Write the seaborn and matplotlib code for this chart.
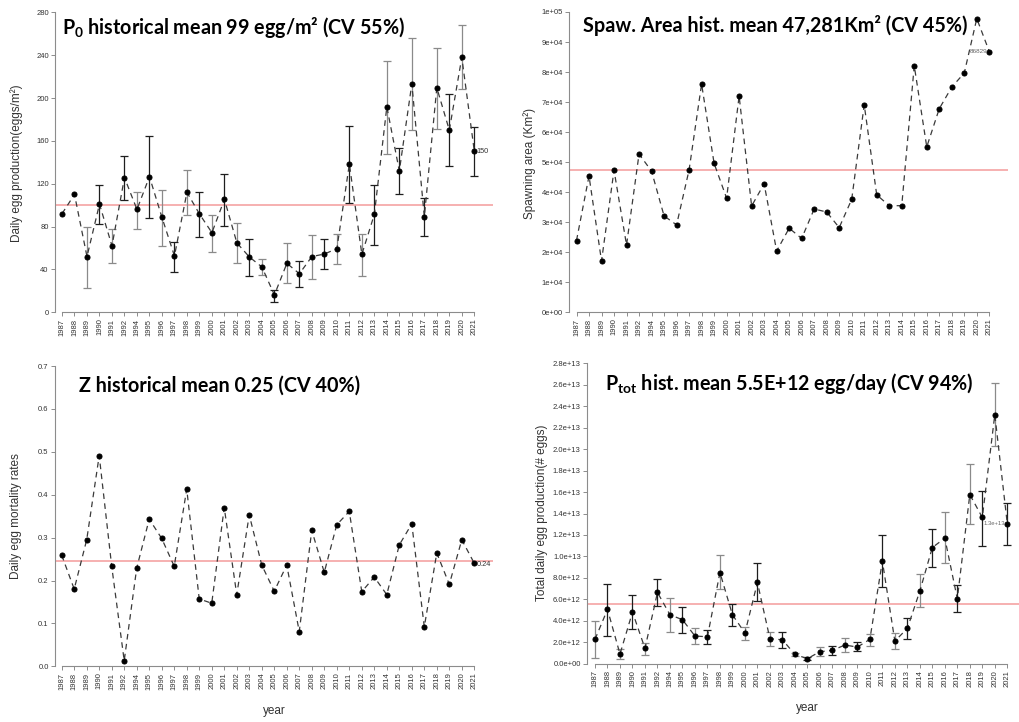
import numpy as np
import pandas as pd
import matplotlib
matplotlib.use("Agg")
import matplotlib.pyplot as plt
import seaborn as sns

# ---------------- data ----------------
years = ['1987', '1988', '1989', '1990', '1991', '1992', '1994', '1995', '1996', '1997',
         '1998', '1999', '2000', '2001', '2002', '2003', '2004', '2005', '2006', '2007',
         '2008', '2009', '2010', '2011', '2012', '2013', '2014', '2015', '2016', '2017',
         '2018', '2019', '2020', '2021']

nan = np.nan
p0 = [92, 110, 52, 101, 62, 125.7, 96, 126.6, 88.6, 52.6, 112, 91.8, 74.3, 105.4, 64.7,
      51.6, 42.3, 16.2, 45.7, 36, 52, 54.4, 59.4, 138.4, 54.1, 91.4, 191.8, 131.9, 213.3,
      89.3, 209.6, 170, 237.9, 150.5]
p0_lo = [nan, nan, 23, 82, 46, 105, 78, 88, 62, 38, 91, 70, 56, 81, 46, 34, 35, 10, 27, 24,
         31, 40, 45, 102, 34, 63, 148, 110, 170, 71, 171, 137, 208, 127]
p0_hi = [nan, nan, 80, 119, 78, 146, 112, 165, 114, 66, 133, 112, 91, 129, 83, 68, 50, 21, 65,
         48, 72, 68, 73, 174, 73, 119, 235, 153, 256, 107, 247, 204, 268, 173]
p0_mean = 99.7

area = [23900, 45400, 17100, 47300, 22400, 52700, 47000, 32100, 29100, 47400, 76000, 49600,
        38000, 72000, 35400, 42800, 20400, 28000, 24600, 34400, 33400, 28200, 37600, 69100,
        39100, 35500, 35500, 82100, 55100, 67800, 75000, 79700, 97800, 86829]
area_mean = 47281

z = [0.259, 0.180, 0.295, 0.491, 0.233, 0.013, 0.229, 0.343, 0.298, 0.233, 0.413, 0.157,
     0.147, 0.370, 0.167, 0.353, 0.236, 0.175, 0.236, 0.081, 0.317, 0.219, 0.330, 0.361,
     0.174, 0.208, 0.167, 0.283, 0.332, 0.092, 0.264, 0.191, 0.295, 0.240]
z_mean = 0.246

ptot = [2.27, 5.06, 0.90, 4.81, 1.43, 6.64, 4.56, 4.10, 2.58, 2.51, 8.50, 4.56, 2.86, 7.57,
        2.33, 2.23, 0.87, 0.47, 1.12, 1.24, 1.74, 1.55, 2.27, 9.56, 2.11, 3.29, 6.77, 10.83,
        11.70, 6.05, 15.77, 13.63, 23.22, 13.04]
ptot_lo = [0.53, 2.58, 0.43, 3.20, 0.81, 5.37, 2.95, 2.82, 1.83, 1.83, 6.92, 3.51, 2.17, 5.87,
           1.61, 1.49, 0.71, 0.31, 0.71, 0.84, 1.09, 1.21, 1.68, 7.11, 1.33, 2.27, 5.25, 9.03,
           9.34, 4.78, 12.98, 10.96, 20.27, 11.02]
ptot_hi = [3.94, 7.45, 1.37, 6.36, 1.96, 7.91, 6.08, 5.31, 3.32, 3.17, 10.12, 5.56, 3.45, 9.34,
           2.95, 2.95, 1.02, 0.62, 1.58, 1.68, 2.42, 1.99, 2.76, 12.01, 2.86, 4.22, 8.32, 12.51,
           14.10, 7.32, 18.59, 16.14, 26.16, 14.99]
ptot_scale = 1e12
ptot_mean = 5.52

# ---------------- style ----------------
sns.set_theme(style="white")
plt.rcParams["font.family"] = ["Liberation Sans", "DejaVu Sans"]
plt.rcParams["mathtext.fontset"] = "custom"
plt.rcParams["mathtext.rm"] = "Lato:bold"
plt.rcParams["mathtext.it"] = "Lato:bold"
plt.rcParams["mathtext.bf"] = "Lato:bold"

W, H = 1020, 722
fig = plt.figure(figsize=(W / 100, H / 100), dpi=100)

SPINE = "#8c8c8c"
TXT = "#333333"
RED = "#f5a3a3"
n = len(years)
xpos = np.arange(n)


def make_ax(spine_px, x0_px, xl_px, right_px, top_px, bottom_px, ylim):
    sp = (xl_px - x0_px) / (n - 1)
    ax = fig.add_axes([spine_px / W, (H - bottom_px) / H,
                       (right_px - spine_px) / W, (bottom_px - top_px) / H])
    ax.set_xlim(-(x0_px - spine_px) / sp, (n - 1) + (right_px - xl_px) / sp)
    ax.set_ylim(*ylim)
    for s in ["top", "right"]:
        ax.spines[s].set_visible(False)
    for s in ["left", "bottom"]:
        ax.spines[s].set_color(SPINE)
        ax.spines[s].set_linewidth(0.8)
    ax.spines["left"].set_bounds(*ylim)
    ax.spines["bottom"].set_bounds(0, n - 1)
    ax.set_xticks(xpos)
    ax.set_xticklabels(years, rotation=90)
    ax.tick_params(axis="both", length=3, width=0.7, color=SPINE, labelsize=5.5,
                   labelcolor=TXT, pad=1.5, left=True, bottom=True)
    ax.grid(False)
    return ax


def draw_series(ax, vals, mean, lo=None, hi=None):
    ax.axhline(mean, color=RED, lw=1.2, zorder=1)
    if lo is not None:
        v = np.asarray(vals, float)
        lo = np.asarray(lo, float)
        hi = np.asarray(hi, float)
        for parity, col in [(0, "#8a8a8a"), (1, "#1e1e1e")]:
            idx = xpos[(xpos % 2 == parity) & ~np.isnan(lo)]
            ax.errorbar(idx, v[idx], yerr=[v[idx] - lo[idx], hi[idx] - v[idx]],
                        fmt="none", ecolor=col, elinewidth=0.9, capsize=3.1,
                        capthick=0.9, zorder=2)
    df = pd.DataFrame({"x": xpos, "y": vals})
    sns.lineplot(data=df, x="x", y="y", ax=ax, color="#3a3a3a", lw=0.9,
                 linestyle=(0, (4.5, 3.5)), marker="o", markersize=3.6,
                 markerfacecolor="black", markeredgecolor="black", zorder=3)
    ax.set_xlabel("")
    ax.set_ylabel("")


# ---- top-left: P0 ----
ax1 = make_ax(55, 62, 474.3, 493, 12.3, 312.3, (0, 280))
draw_series(ax1, p0, p0_mean, p0_lo, p0_hi)
ax1.set_yticks(np.arange(0, 281, 40))
ax1.set_yticklabels([str(v) for v in range(0, 281, 40)])
ax1.annotate("150", (n - 1, p0[-1]), xytext=(1.5, 0), textcoords="offset points",
             ha="left", va="center", fontsize=5.3, color=TXT)

# ---- top-right: spawning area ----
ax2 = make_ax(569.3, 576.5, 989.3, 1008, 12, 312.3, (0, 100000))
draw_series(ax2, area, area_mean)
ticks2 = np.arange(0, 100001, 10000)
ax2.set_yticks(ticks2)
ax2.set_yticklabels([f"{v:.0e}" for v in ticks2])
ax2.annotate("86829", (n - 1, area[-1]), xytext=(-1.5, 0), textcoords="offset points",
             ha="right", va="center", fontsize=4.6, color="#666666")

# ---- bottom-left: Z ----
ax3 = make_ax(55, 61.7, 474.3, 493, 366, 666.3, (0, 0.7))
draw_series(ax3, z, z_mean)
ticks3 = np.round(np.arange(0, 0.71, 0.1), 1)
ax3.set_yticks(ticks3)
ax3.set_yticklabels([f"{v:.1f}" for v in ticks3])
ax3.annotate("0.24", (n - 1, z[-1]), xytext=(1.5, -1), textcoords="offset points",
             ha="left", va="center", fontsize=5.3, color=TXT)

# ---- bottom-right: Ptot ----
pt = np.array(ptot) * ptot_scale
ax4 = make_ax(587, 595, 1007.3, 1020, 363.3, 663.7, (0, 2.8e13))
draw_series(ax4, pt, ptot_mean * ptot_scale,
            np.array(ptot_lo) * ptot_scale, np.array(ptot_hi) * ptot_scale)
ticks4 = np.arange(0, 2.81e13, 2e12)
ax4.set_yticks(ticks4)
ax4.set_yticklabels([f"{v:.1e}" for v in ticks4])
ax4.annotate("1.3e+13", (n - 1, pt[-1]), xytext=(-1.5, 0), textcoords="offset points",
             ha="right", va="center", fontsize=4.2, color="#666666")

# ---- axis labels ----
lab = dict(fontsize=8.5, color=TXT, rotation=90, ha="center", va="center")
fig.text(17 / W, 1 - 163 / H, "Daily egg production(eggs/m²)", **lab)
fig.text(529.5 / W, 1 - 163 / H, "Spawning area (Km²)", **lab)
fig.text(16 / W, 1 - 516 / H, "Daily egg mortality rates", **lab)
fig.text(542.5 / W, 1 - 513 / H, "Total daily egg production(# eggs)", **lab)
fig.text(274.5 / W, 1 - 711 / H, "year", fontsize=8.5, color=TXT, ha="center", va="center")
fig.text(807.7 / W, 1 - 708 / H, "year", fontsize=8.5, color=TXT, ha="center", va="center")

# ---- titles ----
tt = dict(fontsize=14.2, fontweight="bold", family="Lato", color="black", va="baseline", ha="left")
fig.text(62 / W, 1 - 34 / H, r"$\mathrm{P}_0$ historical mean 99 egg/m² (CV 55%)", **tt)
fig.text(583 / W, 1 - 32 / H, "Spaw. Area hist. mean 47,281Km² (CV 45%)", **tt)
fig.text(79 / W, 1 - 392 / H, "Z historical mean 0.25 (CV 40%)", **tt)
fig.text(605 / W, 1 - 389.5 / H, r"$\mathrm{P}_{tot}$ hist. mean 5.5E+12 egg/day (CV 94%)", **tt)

fig.savefig("out.png", dpi=100)
